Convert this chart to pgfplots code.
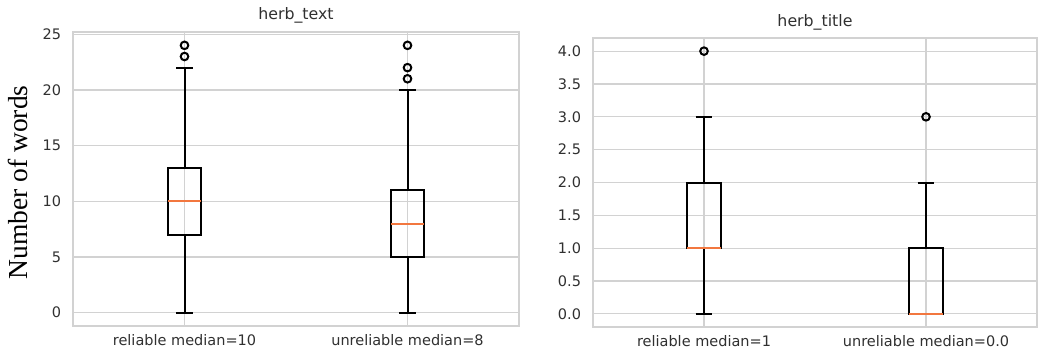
\documentclass[border=0pt]{standalone}
\usepackage{fontspec}
\setmainfont{DejaVu Sans}
\newfontfamily\serifl{Liberation Serif}
\usepackage{pgfplots}
\usepgfplotslibrary{statistics}
\pgfplotsset{compat=1.18}
\definecolor{gridc}{HTML}{D2D2D2}
\definecolor{txt}{HTML}{303030}
\definecolor{medc}{HTML}{F2773F}
\pgfplotsset{
  mybox/.style={
    scale only axis,
    axis line style={gridc, line width=1.4bp},
    grid=major,
    grid style={gridc, line width=1.2bp},
    major tick length=0pt,
    tick style={draw=none},
    xmin=0.5, xmax=2.5,
    xtick={1,2},
    ticklabel style={font=\fontsize{14.5bp}{16bp}\selectfont, text=txt},
    yticklabel style={xshift=-8.5bp},
    xticklabel style={yshift=-5bp},
    /pgf/number format/assume math mode=true,
    title style={at={(0.5,1)}, anchor=base, font=\fontsize{15.8bp}{18bp}\selectfont, text=txt},
    boxplot/draw direction=y,
    boxplot/every median/.style={draw=medc, solid, line width=2bp},
    boxplot/box extend=0.15,
    boxplot/whisker extend=0.075,
    clip=false,
  },
  bp/.style={black, solid, line width=2bp, mark=o, mark size=3.8bp,
    mark options={black, line width=2bp, fill=none}},
}
\begin{document}
\begin{tikzpicture}
\useasboundingbox (0,0) rectangle (1038bp,351bp);
\begin{axis}[mybox,
  at={(73bp,25bp)}, anchor=south west,
  width=446bp, height=294bp,
  ymin=-1.2, ymax=25.2,
  ytick={0,5,10,15,20,25},
  xticklabels={{reliable median=10},{unreliable median=8}},
  title={herb\_text},
  title style={yshift=7bp},
]
\addplot[bp, boxplot prepared={median=10, lower quartile=7, upper quartile=13,
  lower whisker=0, upper whisker=22, draw position=1}]
  coordinates {(0,23) (0,24)};
\addplot[bp, boxplot prepared={median=8, lower quartile=5, upper quartile=11,
  lower whisker=0, upper whisker=20, draw position=2}]
  coordinates {(0,21) (0,22) (0,24)};
\end{axis}
\begin{axis}[mybox,
  at={(593bp,24bp)}, anchor=south west,
  width=444bp, height=289bp,
  ymin=-0.2, ymax=4.2,
  ytick={0,0.5,1,1.5,2,2.5,3,3.5,4},
  yticklabel style={/pgf/number format/.cd, fixed, fixed zerofill, precision=1},
  xticklabels={{reliable median=1},{unreliable median=0.0}},
  title={herb\_title},
  title style={yshift=6bp},
]
\addplot[bp, boxplot prepared={median=1, lower quartile=1, upper quartile=2,
  lower whisker=0, upper whisker=3, draw position=1}]
  coordinates {(0,4)};
\addplot[bp, boxplot prepared={median=0, lower quartile=0, upper quartile=1,
  lower whisker=0, upper whisker=2, draw position=2}]
  coordinates {(0,3)};
\end{axis}
\node[rotate=90, anchor=south, inner sep=0pt, font=\serifl\fontsize{27.5bp}{30bp}\selectfont]
  at (28bp,168.5bp) {Number of words};
\end{tikzpicture}
\end{document}
